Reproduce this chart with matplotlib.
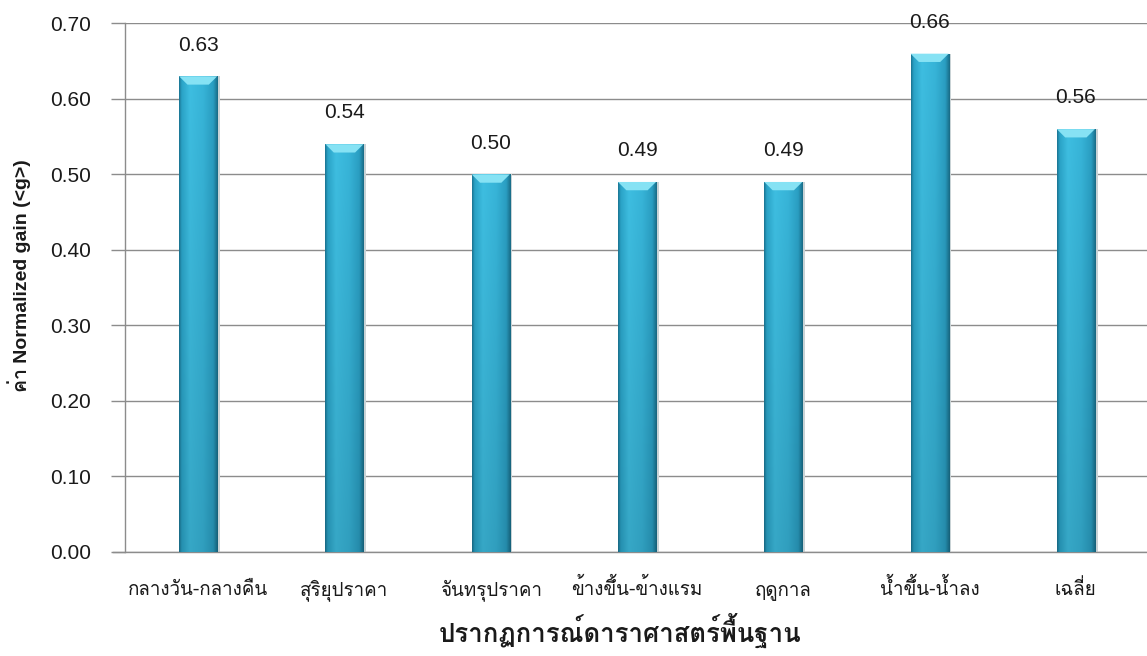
import numpy as np
import matplotlib
matplotlib.use("Agg")
import matplotlib.pyplot as plt
from matplotlib.colors import LinearSegmentedColormap
from matplotlib.patches import Polygon

categories = ['กลางวัน-กลางคืน', 'สุริยุปราคา', 'จันทรุปราคา', 'ข้างขึ้น-ข้างแรม',
              'ฤดูกาล', 'น้ำขึ้น-น้ำลง', 'เฉลี่ย']
gains = [0.63, 0.54, 0.50, 0.49, 0.49, 0.66, 0.56]
y_ticks = [0.00, 0.10, 0.20, 0.30, 0.40, 0.50, 0.60, 0.70]

FONTS = ['Liberation Sans', 'Loma', 'DejaVu Sans']
THAI = ['Loma', 'Liberation Sans', 'DejaVu Sans']
plt.rcParams['font.family'] = FONTS

W, H = 1147, 656
fig = plt.figure(figsize=(W / 100, H / 100), dpi=100)
ax = fig.add_axes([125 / W, 104.3 / H, 1024 / W, 528.2 / H])

x = np.arange(len(categories))
bar_w = 0.26
bars = ax.bar(x, gains, width=bar_w, color='none', edgecolor='none', zorder=3)

# cylinder-like shading across each bar
shade = LinearSegmentedColormap.from_list(
    'cyl', [(0.0, '#1a7391'), (0.07, '#2aa3c7'), (0.28, '#3ebee1'),
            (0.62, '#37b4d8'), (0.88, '#2a9ec2'), (1.0, '#186b86')])
grad = np.linspace(0, 1, 256)[None, :]
vert = np.linspace(0.88, 1.0, 64)[:, None]

for rect, v in zip(bars, gains):
    x0 = rect.get_x()
    w = rect.get_width()
    # soft shadow on the right side
    ax.bar(x0 + w + 0.006, v, width=0.012, align='edge', color='#c9d3d6', zorder=2)
    rgb = shade(np.repeat(grad, 64, axis=0))[..., :3] * vert[..., None]
    im = ax.imshow(rgb, extent=[x0, x0 + w, 0, v], origin='lower',
                   aspect='auto', zorder=3, interpolation='bilinear')
    im.set_clip_path(rect)
    # bevelled top face
    bh = 0.011
    inset = w * 0.22
    top = Polygon([[x0, v], [x0 + w, v], [x0 + w - inset, v - bh], [x0 + inset, v - bh]],
                  closed=True, facecolor='#86e2f4', edgecolor='none', zorder=4)
    ax.add_patch(top)
    ax.annotate(f'{v:.2f}', xy=(x0 + w / 2, v), xytext=(0, 22.5),
                textcoords='offset points', ha='center', va='center',
                fontsize=15, color='#1a1a1a', zorder=5)

ax.set_xlim(-0.5, len(categories) - 0.5)
ax.set_ylim(0, 0.70)
ax.set_yticks(y_ticks)
ax.set_yticklabels([f'{t:.2f}' for t in y_ticks], fontsize=15, color='#1a1a1a')
ax.set_xticks(x)
ax.set_xticklabels(categories, fontsize=13.5, color='#1a1a1a', family=THAI)
for lbl in ax.get_xticklabels():
    lbl.set_verticalalignment('baseline')
ax.tick_params(axis='x', length=0, pad=31)
ax.tick_params(axis='y', length=10, width=1, color='#8c8c8c', pad=14.5)
ax.yaxis.grid(True, color='#8c8c8c', linewidth=1)
ax.set_axisbelow(True)
for s in ['top', 'right']:
    ax.spines[s].set_visible(False)
for s in ['left', 'bottom']:
    ax.spines[s].set_color('#8c8c8c')
    ax.spines[s].set_linewidth(1)
ax.spines['bottom'].set_bounds(-0.5 - 12 / 146.3, len(categories) - 0.5)

fig.text(620 / W, 1 - 643 / H, 'ปรากฏการณ์ดาราศาสตร์พื้นฐาน', ha='center', va='baseline',
         fontsize=18.5, fontweight='bold', color='#1a1a1a', family=THAI)
fig.text(19 / W, 1 - 275.5 / H, 'ค่า Normalized gain (<g>)', ha='center', va='center',
         rotation=90, fontsize=14, fontweight='bold', color='#1a1a1a')

fig.savefig('out.png', dpi=100)
